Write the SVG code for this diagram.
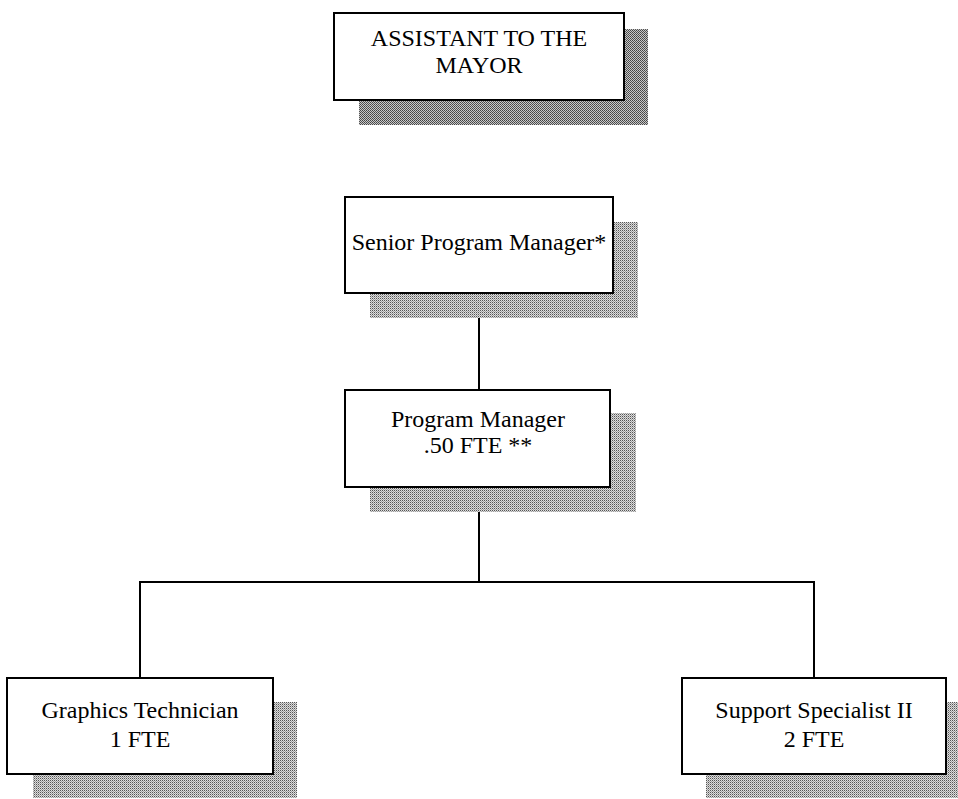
<svg xmlns="http://www.w3.org/2000/svg" width="958" height="799" viewBox="0 0 958 799">
<style>
.box{fill:#fff;stroke:#000;stroke-width:2}
.lbl{font-family:"Liberation Serif","Times New Roman",serif;font-size:24px;fill:#000;text-anchor:middle}
.conn{stroke:#000;stroke-width:2;fill:none}
.sh{fill:url(#dither)}
.shd{fill:url(#ditherDark)}
</style>
<defs>
<pattern id="dither" patternUnits="userSpaceOnUse" width="2" height="2">
<rect width="2" height="2" fill="#dcdcdc"/>
<rect x="0" y="0" width="1" height="1" fill="#555"/>
<rect x="1" y="1" width="1" height="1" fill="#a0a0a0"/>
</pattern>
<pattern id="ditherDark" patternUnits="userSpaceOnUse" width="2" height="2">
<rect width="2" height="2" fill="#c8c8c8"/>
<rect x="0" y="0" width="1" height="1" fill="#444"/>
<rect x="1" y="1" width="1" height="1" fill="#555"/>
</pattern>
</defs>
<rect width="958" height="799" fill="#fff"/>
<g id="connectors">
<line class="conn" x1="479" y1="293" x2="479" y2="390"/>
<polyline class="conn" points="479,487 479,582"/>
<polyline class="conn" points="140,678 140,582 814,582 814,678"/>
</g>
<g id="assistant">
<rect class="shd" x="359" y="29" width="289" height="96"/>
<rect class="box" x="334" y="13" width="290" height="87"/>
<text class="lbl" x="479" y="46">ASSISTANT TO THE</text>
<text class="lbl" x="479" y="73">MAYOR</text>
</g>
<g id="senior">
<rect class="sh" x="370" y="222" width="268" height="96"/>
<rect class="box" x="345" y="197" width="268" height="96"/>
<text class="lbl" x="479" y="250">Senior Program Manager*</text>
</g>
<g id="program-manager">
<rect class="sh" x="370" y="413" width="266" height="99"/>
<rect class="box" x="345" y="390" width="265" height="97"/>
<text class="lbl" x="478" y="427">Program Manager</text>
<text class="lbl" x="478" y="453">.50 FTE **</text>
</g>
<g id="graphics-technician">
<rect class="sh" x="33" y="702" width="264" height="96"/>
<rect class="box" x="7" y="678" width="266" height="96"/>
<text class="lbl" x="140" y="718">Graphics Technician</text>
<text class="lbl" x="140" y="747">1 FTE</text>
</g>
<g id="support-specialist">
<rect class="sh" x="706" y="702" width="252" height="96"/>
<rect class="box" x="682" y="678" width="264" height="96"/>
<text class="lbl" x="814" y="718">Support Specialist II</text>
<text class="lbl" x="814" y="747">2 FTE</text>
</g>
</svg>
